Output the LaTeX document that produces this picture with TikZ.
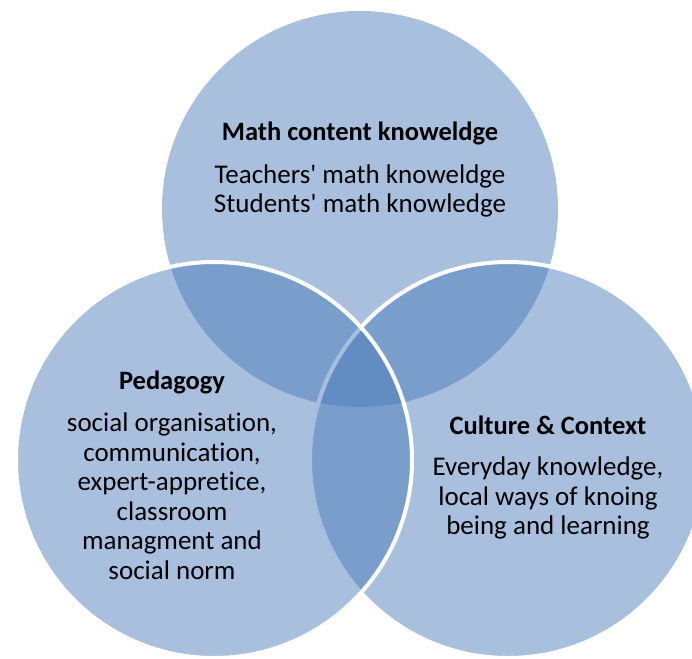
\documentclass[tikz,border=0pt]{standalone}
\usepackage{fontspec}
\setmainfont{Carlito}[Ligatures={TeX,NoCommon}]
\usepackage{tikz}
\usetikzlibrary{positioning}

\definecolor{venn}{RGB}{70,121,185}

\begin{document}
\begin{tikzpicture}[
                x=1pt, y=-1pt,
                set/.style={circle,minimum size=396pt,inner sep=0pt,fill=venn,fill opacity=0.47},
                border/.style={draw=white,line width=4pt},
                title/.style={font=\fontsize{26.5}{29.5}\selectfont\bfseries,align=center,inner sep=0pt},
                body/.style={font=\fontsize{27}{29.5}\selectfont,align=center,inner sep=0pt}
            ]
                \useasboundingbox (0,0) rectangle (692,658);
                % the three sets
                \node (math) [set]        at (360,209) {};
                \node (cult) [set,border] at (508,460) {};
                \node (peda) [set,border] at (214,460) {};
                % titles
                \node (mathtitle) [title] at (360,133) {Math content knoweldge};
                \node (pedatitle) [title] at (172,382) {Pedagogy};
                \node (culttitle) [title] at (548,425) {Culture \& Context};
                % contents
                \node (mathtext) [body] at (360,191) {Teachers\textquotesingle{} math knoweldge\\Students\textquotesingle{} math knowledge};
                \node (pedatext) [body] at (172,496) {social organisation,\\communication,\\expert-appretice,\\classroom\\managment and\\social norm};
                \node (culttext) [body] at (548,498) {Everyday knowledge,\\local ways of knoing\\being and learning};
            \end{tikzpicture}
\end{document}
